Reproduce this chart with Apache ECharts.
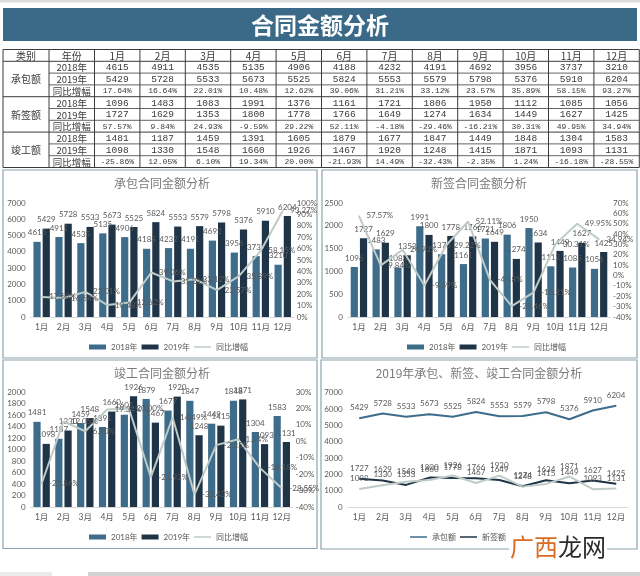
<!DOCTYPE html>
<html>
<head>
<meta charset="utf-8">
<style>html,body{margin:0;padding:0;background:#fff}#chart{width:640px;height:576px}</style>
<script src="https://cdn.jsdelivr.net/npm/echarts@6/dist/echarts.min.js"></script>
</head>
<body>
<div id="chart"></div>
<script>
// Contract amount figures, 2018 vs 2019, by month
const months = ['1月','2月','3月','4月','5月','6月','7月','8月','9月','10月','11月','12月'];
const contract2018 = [4615,4911,4535,5135,4906,4188,4232,4191,4692,3956,3737,3210];
const contract2019 = [5429,5728,5533,5673,5525,5824,5553,5579,5798,5376,5910,6204];
const contractYoY = [17.64,16.64,22.01,10.48,12.62,39.06,31.21,33.12,23.57,35.89,58.15,93.27];
const signed2018 = [1096,1483,1083,1991,1376,1161,1721,1806,1950,1112,1085,1056];
const signed2019 = [1727,1629,1353,1800,1778,1766,1649,1274,1634,1449,1627,1425];
const signedYoY = [57.57,9.84,24.93,-9.59,29.22,52.11,-4.18,-29.46,-16.21,30.31,49.95,34.94];
const finished2018 = [1481,1187,1459,1391,1605,1879,1677,1847,1449,1848,1304,1583];
const finished2019 = [1098,1330,1548,1660,1926,1467,1920,1248,1415,1871,1093,1131];
const finishedYoY = [-25.86,12.05,6.10,19.34,20.00,-21.93,14.49,-32.43,-2.35,1.24,-16.18,-28.55];

const BLUE = '#3d6d8a', NAVY = '#1f3447', SAGE = '#bfcbc7', TEXT = '#595959', TITLE = '#7a7a7a';
const FONT = 'Lato, "Noto Sans CJK SC", sans-serif';
const LINE_ICON = 'path://M0 0H34V3H0z';
const pct = v => v.toFixed(2) + '%';

const chart = echarts.init(document.getElementById('chart'), null, {renderer: 'canvas'});

// ---- Summary table drawn as graphic elements ----
const graphics = [];
const CJK = '"Noto Sans CJK SC", sans-serif';
const MONO = '"Liberation Mono", "Noto Sans CJK SC", monospace';
const tableX = 3, tableTop = 49.5, rowH = 11.8, firstW = 46, yearW = 45.5, monthW = 45.4;
const colX = i => i === 0 ? tableX : i === 1 ? tableX + firstW : tableX + firstW + yearW + (i - 2) * monthW;
const rowY = r => tableTop + r * rowH;
const tableRight = colX(14);

function cell(col, row, text, font, size, span) {
  const right = colX(col + 1);
  graphics.push({
    type: 'text', z: 5,
    style: {
      x: (colX(col) + right) / 2, y: rowY(row) + rowH * (span || 1) / 2 + 0.5,
      text, fill: '#3a3a3a', font: size + 'px ' + font, align: 'center', verticalAlign: 'middle'
    }
  });
}
function rule(x1, y1, x2, y2, color, w) {
  graphics.push({type: 'line', z: 4, shape: {x1, y1, x2, y2}, style: {stroke: color, lineWidth: w}});
}

graphics.push({type: 'rect', z: 1, shape: {x: 0, y: 0, width: 640, height: 2.5}, style: {fill: '#dcdcdc'}});
graphics.push({type: 'rect', z: 1, shape: {x: 3, y: 8, width: 634, height: 33}, style: {fill: '#3b6a88'}});
graphics.push({type: 'text', z: 5, style: {x: 320, y: 25, text: '合同金额分析', fill: '#fff',
  font: 'bold 23px ' + CJK, align: 'center', verticalAlign: 'middle'}});

const tableGroups = [
  ['承包额', contract2018, contract2019, contractYoY],
  ['新签额', signed2018, signed2019, signedYoY],
  ['竣工额', finished2018, finished2019, finishedYoY]
];
cell(0, 0, '类别', CJK, 10);
cell(1, 0, '年份', CJK, 10);
months.forEach((m, i) => cell(i + 2, 0, m, CJK, 10));
tableGroups.forEach((g, k) => {
  const r0 = 1 + k * 3;
  cell(0, r0, g[0], CJK, 10, 3);
  cell(1, r0, '2018年', CJK, 9.5);
  cell(1, r0 + 1, '2019年', CJK, 9.5);
  cell(1, r0 + 2, '同比增幅', CJK, 9.5);
  months.forEach((m, i) => {
    cell(i + 2, r0, String(g[1][i]), MONO, 9.5);
    cell(i + 2, r0 + 1, String(g[2][i]), MONO, 9.5);
    cell(i + 2, r0 + 2, pct(g[3][i]), MONO, 8);
  });
});
for (let r = 0; r <= 10; r++) {
  const major = r === 0 || r === 1 || r === 4 || r === 7 || r === 10;
  rule(major ? tableX : colX(1), rowY(r), tableRight, rowY(r), '#3c3c3c', major ? 1 : 0.8);
}
for (let c = 0; c <= 14; c++) rule(colX(c), rowY(0), colX(c), rowY(10), '#3c3c3c', 1);

// ---- Chart panels ----
[[3, 170, 314, 188], [322, 170, 315, 188], [3, 360, 314, 188.5], [321, 360, 316, 189]].forEach(p => {
  graphics.push({type: 'rect', z: 0, shape: {x: p[0], y: p[1], width: p[2], height: p[3]},
    style: {fill: '#fff', stroke: '#8ea3ae', lineWidth: 1.2}});
});

// ---- Page footer strip and site mark ----
graphics.push({type: 'rect', z: 1, shape: {x: 0, y: 572, width: 52, height: 4}, style: {fill: '#ebebeb'}});
graphics.push({type: 'rect', z: 1, shape: {x: 88, y: 572, width: 552, height: 4}, style: {fill: '#d2d2d2'}});
graphics.push({type: 'rect', z: 100, shape: {x: 509, y: 533, width: 98, height: 28}, style: {fill: '#fff'}});
graphics.push({type: 'text', z: 101, style: {x: 510, y: 547, text: '广西', fill: '#d96b22',
  font: '24px ' + CJK, align: 'left', verticalAlign: 'middle'}});
graphics.push({type: 'text', z: 101, style: {x: 558, y: 547, text: '龙网', fill: '#2a2a2a',
  font: '24px ' + CJK, align: 'left', verticalAlign: 'middle'}});

// ---- Axes, grids and series ----
const grids = [
  {left: 30.7, top: 203, width: 263, height: 114},
  {left: 348, top: 203, width: 262, height: 114},
  {left: 30.7, top: 392, width: 262, height: 115},
  {left: 347.7, top: 392.7, width: 280, height: 114.3}
];
const xAxes = grids.map((g, i) => ({
  type: 'category', gridIndex: i, data: months,
  axisLine: {onZero: false, lineStyle: {color: '#d9d9d9'}},
  axisTick: {show: false},
  axisLabel: {color: TEXT, fontSize: 8.5, fontFamily: FONT, margin: 6, interval: 0}
}));
const valueAxis = (gridIndex, min, max, interval, position, percent) => ({
  type: 'value', gridIndex, min, max, interval, position,
  axisLine: {show: false}, axisTick: {show: false}, splitLine: {show: false},
  axisLabel: {
    color: TEXT, fontSize: 8, fontFamily: FONT,
    margin: percent ? 3 : 5,
    formatter: v => percent ? v + '%' : String(v)
  }
});
const yAxes = [
  valueAxis(0, 0, 7000, 1000, 'left', false), valueAxis(0, 0, 100, 10, 'right', true),
  valueAxis(1, 0, 2500, 500, 'left', false), valueAxis(1, -40, 70, 10, 'right', true),
  valueAxis(2, 0, 2000, 200, 'left', false), valueAxis(2, -40, 30, 10, 'right', true),
  valueAxis(3, 0, 7000, 1000, 'left', false)
];

const labelBase = {show: true, color: TEXT, fontSize: 8, fontFamily: FONT};
function barSeries(name, data, color, axis) {
  return {
    name, type: 'bar', data, xAxisIndex: axis, yAxisIndex: axis * 2,
    barWidth: 7.2, barGap: '28%',
    itemStyle: {color},
    label: {...labelBase, position: 'top', distance: 5},
    z: 2
  };
}
function yoySeries(data, axis) {
  return {
    name: '同比增幅', type: 'line', data, xAxisIndex: axis, yAxisIndex: axis * 2 + 1,
    symbol: 'circle', symbolSize: 1, lineStyle: {color: SAGE, width: 2}, itemStyle: {color: SAGE},
    label: {...labelBase, position: 'right', distance: 7, formatter: p => pct(p.value)},
    z: 3
  };
}
function amountLine(name, data, color) {
  return {
    name, type: 'line', data, xAxisIndex: 3, yAxisIndex: 6,
    symbol: 'circle', symbolSize: 1, lineStyle: {color, width: 2}, itemStyle: {color},
    label: {...labelBase, position: 'top', distance: 6},
    z: 3
  };
}

const series = [];
[[contract2018, contract2019, contractYoY], [signed2018, signed2019, signedYoY], [finished2018, finished2019, finishedYoY]]
  .forEach((s, i) => {
    series.push(barSeries('2018年', s[0], BLUE, i), barSeries('2019年', s[1], NAVY, i), yoySeries(s[2], i));
  });
series.push(amountLine('承包额', contract2019, BLUE), amountLine('新签额', signed2019, NAVY), amountLine('竣工额', finished2019, SAGE));

const titleAt = (text, left, top) => ({
  text, left, top, textAlign: 'center', padding: 0,
  textStyle: {color: TITLE, fontSize: 12, fontWeight: 'normal', fontFamily: CJK}
});
const legendText = {color: TEXT, fontSize: 8, fontFamily: FONT};
const barLegend = (left, top) => ({
  left, top, itemWidth: 17, itemHeight: 5, itemGap: 4, padding: 0,
  textStyle: legendText,
  data: [{name: '2018年', icon: 'rect'}, {name: '2019年', icon: 'rect'}, {name: '同比增幅', icon: LINE_ICON}]
});

chart.setOption({
  animation: false,
  backgroundColor: '#fff',
  title: [
    titleAt('承包合同金额分析', 162, 177),
    titleAt('新签合同金额分析', 479, 177),
    titleAt('竣工合同金额分析', 162, 367),
    titleAt('2019年承包、新签、竣工合同金额分析', 479, 367)
  ],
  grid: grids,
  xAxis: xAxes,
  yAxis: yAxes,
  legend: [
    barLegend(89, 343),
    barLegend(407, 343),
    barLegend(89, 533),
    {left: 410, top: 533, itemWidth: 17, itemHeight: 5, itemGap: 4, padding: 0,
      textStyle: legendText,
      data: [{name: '承包额', icon: LINE_ICON}, {name: '新签额', icon: LINE_ICON}, {name: '竣工额', icon: LINE_ICON}]}
  ],
  series,
  graphic: {elements: graphics}
});
</script>
</body>
</html>
